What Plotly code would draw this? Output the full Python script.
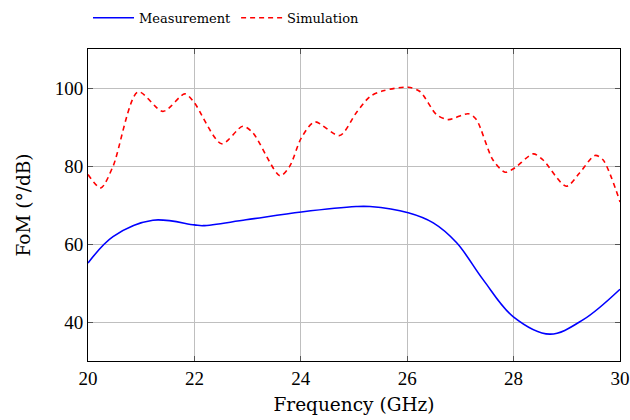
import plotly.graph_objects as go

meas_x = [20.0, 20.47, 21.22, 22.0, 22.16, 22.97, 24.01, 25.04, 25.3, 26.02, 26.49, 26.93, 27.43, 27.99, 28.68, 29.31, 30.0]
meas_y = [55.1, 61.9, 66.1, 64.9, 64.7, 66.2, 68.2, 69.6, 69.6, 68.0, 65.4, 60.3, 50.8, 41.4, 36.9, 40.6, 48.4]

sim_x = [20.0, 20.24, 20.47, 20.94, 21.41, 21.82, 22.0, 22.51, 22.91, 23.1, 23.61, 23.79, 24.01, 24.26,
         24.73, 25.04, 25.3, 25.55, 26.02, 26.24, 26.55, 26.77, 27.15, 27.3, 27.61, 27.84, 28.02,
         28.37, 28.55, 28.99, 29.24, 29.53, 29.68, 30.0]
sim_y = [77.8, 74.4, 79.9, 99.0, 94.0, 98.5, 96.2, 85.7, 90.2, 88.5, 77.5, 79.9, 87.2, 91.3,
         87.8, 93.6, 97.8, 99.3, 100.2, 99.1, 93.2, 91.9, 93.4, 91.9, 81.6, 78.4, 79.5,
         83.1, 81.6, 74.8, 78.2, 82.7, 81.6, 70.8]

x_ticks = [20, 22, 24, 26, 28, 30]
y_ticks = [40, 60, 80, 100]

font = "Liberation Serif"
tfont = "DejaVu Serif"

fig = go.Figure()
fig.add_trace(go.Scatter(x=meas_x, y=meas_y, mode="lines", name="Measurement",
                         line=dict(color="#0000ff", width=1.6, shape="spline", smoothing=1.0)))
fig.add_trace(go.Scatter(x=sim_x, y=sim_y, mode="lines", name="Simulation",
                         line=dict(color="#ff0000", width=1.6, dash="5px,4px", shape="spline", smoothing=0.8)))

axis_common = dict(showgrid=True, gridcolor="#bfbfbf", gridwidth=1, showline=True, linecolor="black",
                   linewidth=1, mirror="ticks", ticks="inside", ticklen=5, tickcolor="#555555",
                   tickfont=dict(family=font, size=19, color="black"), zeroline=False, automargin=False)

fig.update_layout(
    width=630, height=420,
    margin=dict(l=88, r=10, t=49, b=59, autoexpand=False),
    plot_bgcolor="white", paper_bgcolor="white",
    font=dict(family=font, color="black"),
    xaxis=dict(range=[20, 30], tickvals=x_ticks,
               title=dict(text="Frequency (GHz)", font=dict(family=tfont, size=18.5), standoff=10),
               **axis_common),
    yaxis=dict(range=[30, 110], tickvals=y_ticks,
               title=dict(text="FoM (°/dB)", font=dict(family=tfont, size=18.5), standoff=19),
               **axis_common),
    legend=dict(orientation="h", x=0.0, xanchor="left", y=1.1, yanchor="middle",
                font=dict(family=tfont, size=13), bgcolor="rgba(0,0,0,0)", tracegroupgap=0,
                itemwidth=41),
)

fig.write_html("out.html", post_script="document.body.style.margin='0';",
               config={"displayModeBar": False})
